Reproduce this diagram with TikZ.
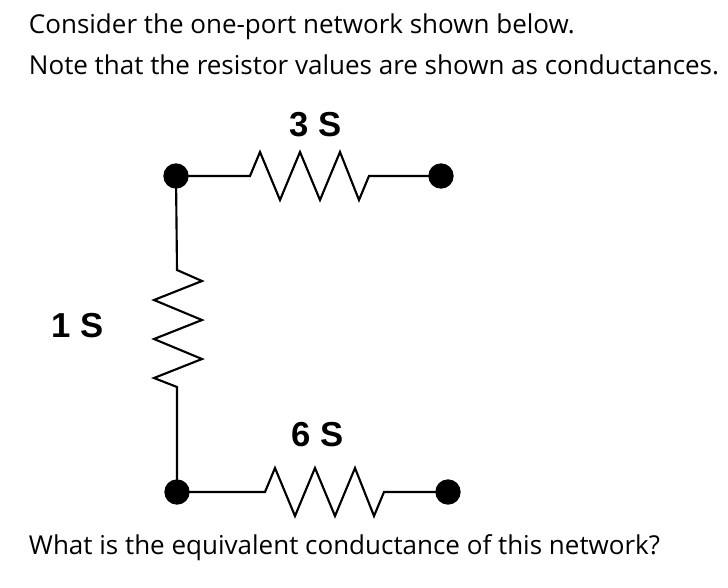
\documentclass[tikz,border=0pt]{standalone}
\usepackage{fontspec}
\setmainfont{Open Sans}
\newfontfamily\lblfont{Liberation Sans}
\tikzset{every picture/.style={line width=0.75pt}}
\tikzset{
  term/.style={circle,fill=black,inner sep=0pt,minimum size=19pt},
  wire/.style={line width=1.6pt,line join=miter},
  val/.style={font=\lblfont\bfseries\fontsize{26}{30}\selectfont},
  txt/.style={anchor=west,font=\fontsize{19.5}{23}\selectfont}
}
\begin{document}
\begin{tikzpicture}[x=0.75pt,y=0.75pt,yscale=-1,xscale=1]
	\useasboundingbox (0,0) rectangle (728,587);

	% Terminals
	\node[term] (ta) at (176,176) {};
	\node[term] (tb) at (441,176) {};
	\node[term] (ba) at (177,492) {};
	\node[term] (bb) at (448,492) {};

	% Resistor 3 S
	\draw[wire] (ta.center) -- (250,176) -- ++(10,-24) -- ++(20,48) -- ++(20,-48) -- ++(20,48) -- ++(20,-48) -- ++(19,48) -- ++(10,-24) -- (tb.center);
	% Resistor 1 S
	\draw[wire] (ta.center) -- (177,270) -- ++(25,11) -- ++(-48,19) -- ++(48,20) -- ++(-48,19) -- ++(48,20) -- ++(-48,19) -- ++(23,9) -- (ba.center);
	% Resistor 6 S
	\draw[wire] (ba.center) -- (265,492) -- ++(10,-24) -- ++(20,48) -- ++(20,-48) -- ++(20,48) -- ++(20,-48) -- ++(19,48) -- ++(10,-24) -- (bb.center);

	% Text Node
	\node[val] (g3) at (316,125) {3 S};
	\node[val] (g1) at (78,326) {1 S};
	\node[val] (g6) at (318,435) {6 S};

	% Text Node
	\node[txt] (l1) at (24,27) {Consider the one-port network shown below.};
	\node[txt] (l2) at (24,65) {Note that the resistor values are shown as conductances.};
	\node[txt] (l3) at (24,548) {What is the equivalent conductance of this network?};
\end{tikzpicture}
\end{document}
